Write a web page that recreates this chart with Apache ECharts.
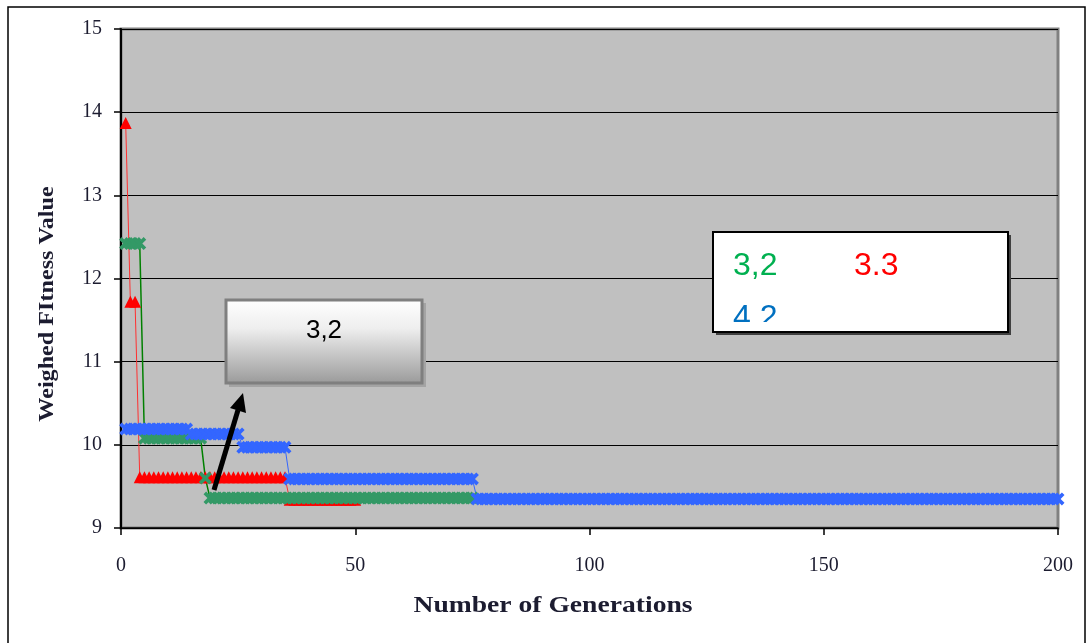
<!DOCTYPE html>
<html><head><meta charset="utf-8">
<script src="https://cdn.jsdelivr.net/npm/echarts@6/dist/echarts.min.js"></script>
<style>html,body{margin:0;padding:0;background:#fff}#c{width:1091px;height:643px}</style>
</head><body><div id="c"></div>
<script>
// Axis ticks
const xTicks = [0, 50, 100, 150, 200];
const yTicks = [9, 10, 11, 12, 13, 14, 15];
const xTitle = 'Number of Generations';
const yTitle = 'Weighed FItness Value';
const legendLabels = ['3,2', '3.3', '4,2'];
const boxLabel = '3,2';
// Step runs: [firstGeneration, lastGeneration, value]
const redRuns = [[1, 1, 13.87], [2, 3, 11.72], [4, 35, 9.61], [36, 50, 9.34]];
const greenRuns = [[1, 4, 12.42], [5, 17, 10.08], [18, 18, 9.6], [19, 75, 9.36]];
const blueRuns = [[1, 14, 10.19], [15, 25, 10.13], [26, 35, 9.97], [36, 75, 9.59], [76, 200, 9.35]];

function expand(runs) {
  const out = [];
  runs.forEach(([a, b, v]) => { for (let g = a; g <= b; g++) out.push([g, v]); });
  return out;
}
const XMARK = 'path://M0,2L2,0L5,3L8,0L10,2L7,5L10,8L8,10L5,7L2,10L0,8L3,5Z';
const chart = echarts.init(document.getElementById('c'), null, {renderer: 'canvas'});
const tickFont = {fontFamily: 'Liberation Serif', fontSize: 20, color: '#1c1c30'};
chart.setOption({
  animation: false,
  backgroundColor: '#ffffff',
  grid: {left: 121, right: 33, top: 29, bottom: 115, show: true,
         backgroundColor: '#c0c0c0', borderColor: '#808080', borderWidth: 3},
  xAxis: {type: 'value', min: xTicks[0], max: xTicks[xTicks.length - 1], interval: 50,
    axisLine: {show: true, onZero: false, lineStyle: {color: '#000', width: 1.5}},
    axisTick: {show: true, length: 7, lineStyle: {color: '#000', width: 1.5}},
    splitLine: {show: false},
    axisLabel: Object.assign({margin: 28}, tickFont)},
  yAxis: {type: 'value', min: yTicks[0], max: yTicks[yTicks.length - 1], interval: 1,
    axisLine: {show: true, lineStyle: {color: '#000', width: 2}},
    axisTick: {show: true, length: 7, lineStyle: {color: '#000', width: 1.5}},
    splitLine: {show: true, lineStyle: {color: '#000', width: 1.2}},
    axisLabel: Object.assign({margin: 19}, tickFont)},
  series: [
    {name: '3.3', type: 'line', data: expand(redRuns), symbol: 'triangle', symbolSize: 12,
     showAllSymbol: true, lineStyle: {color: '#ff3030', width: 1}, itemStyle: {color: '#ff0000'}},
    {name: '3,2', type: 'line', data: expand(greenRuns), symbol: XMARK, symbolSize: 13,
     showAllSymbol: true, lineStyle: {color: '#008000', width: 1.5}, itemStyle: {color: '#339966'}},
    {name: '4,2', type: 'line', data: expand(blueRuns), symbol: XMARK, symbolSize: 13,
     showAllSymbol: true, lineStyle: {color: '#3366ff', width: 1}, itemStyle: {color: '#3366ff'}}
  ],
  graphic: {elements: [
    {type: 'rect', z: 0, shape: {x: 8, y: 7, width: 1077, height: 660}, style: {fill: null, stroke: '#000', lineWidth: 1.5}},
    {type: 'text', z: 100, x: 48, y: 304, rotation: Math.PI / 2, scaleX: 1.15,
     style: {text: yTitle, fontFamily: 'Liberation Serif', fontWeight: 'bold', fontSize: 21, fill: '#1c1c30', align: 'center', verticalAlign: 'middle'}},
    {type: 'text', z: 100, x: 553, y: 606, scaleX: 1.2,
     style: {text: xTitle, fontFamily: 'Liberation Serif', fontWeight: 'bold', fontSize: 23, fill: '#1c1c30', align: 'center', verticalAlign: 'middle'}},
    // callout box
    {type: 'rect', z: 100, shape: {x: 229, y: 303, width: 197, height: 84}, style: {fill: '#a4a4a4'}},
    {type: 'rect', z: 101, shape: {x: 226, y: 300, width: 196, height: 83},
     style: {fill: new echarts.graphic.LinearGradient(0, 0, 0, 1, [{offset: 0, color: '#ffffff'}, {offset: 0.35, color: '#eeeeee'}, {offset: 1, color: '#999999'}]),
             stroke: '#7f7f7f', lineWidth: 3}},
    {type: 'text', z: 102, x: 324, y: 331,
     style: {text: boxLabel, fontFamily: 'Liberation Sans', fontSize: 26, fill: '#000', align: 'center', verticalAlign: 'middle'}},
    // arrow
    {type: 'line', z: 103, shape: {x1: 214, y1: 490, x2: 238, y2: 410}, style: {stroke: '#000', lineWidth: 5}},
    {type: 'polygon', z: 103, shape: {points: [[243, 393], [246, 413], [230, 408]]}, style: {fill: '#000'}},
    // legend-like text box
    {type: 'rect', z: 100, shape: {x: 716, y: 235, width: 295, height: 100}, style: {fill: '#404040'}},
    {type: 'rect', z: 101, shape: {x: 713, y: 232, width: 295, height: 100}, style: {fill: '#ffffff'}},
    {type: 'text', z: 102, x: 733, y: 266,
     style: {text: legendLabels[0], fontFamily: 'Liberation Sans', fontSize: 32, fill: '#00b050', align: 'left', verticalAlign: 'middle'}},
    {type: 'text', z: 102, x: 854, y: 266,
     style: {text: legendLabels[1], fontFamily: 'Liberation Sans', fontSize: 32, fill: '#ff0000', align: 'left', verticalAlign: 'middle'}},
    {type: 'text', z: 102, x: 733, y: 318,
     style: {text: legendLabels[2], fontFamily: 'Liberation Sans', fontSize: 32, fill: '#0070c0', align: 'left', verticalAlign: 'middle'}},
    {type: 'rect', z: 103, shape: {x: 714, y: 322, width: 293, height: 10}, style: {fill: '#ffffff'}},
    {type: 'rect', z: 104, shape: {x: 713, y: 232, width: 295, height: 100}, style: {fill: null, stroke: '#000', lineWidth: 2}}
  ]}
});
</script></body></html>
